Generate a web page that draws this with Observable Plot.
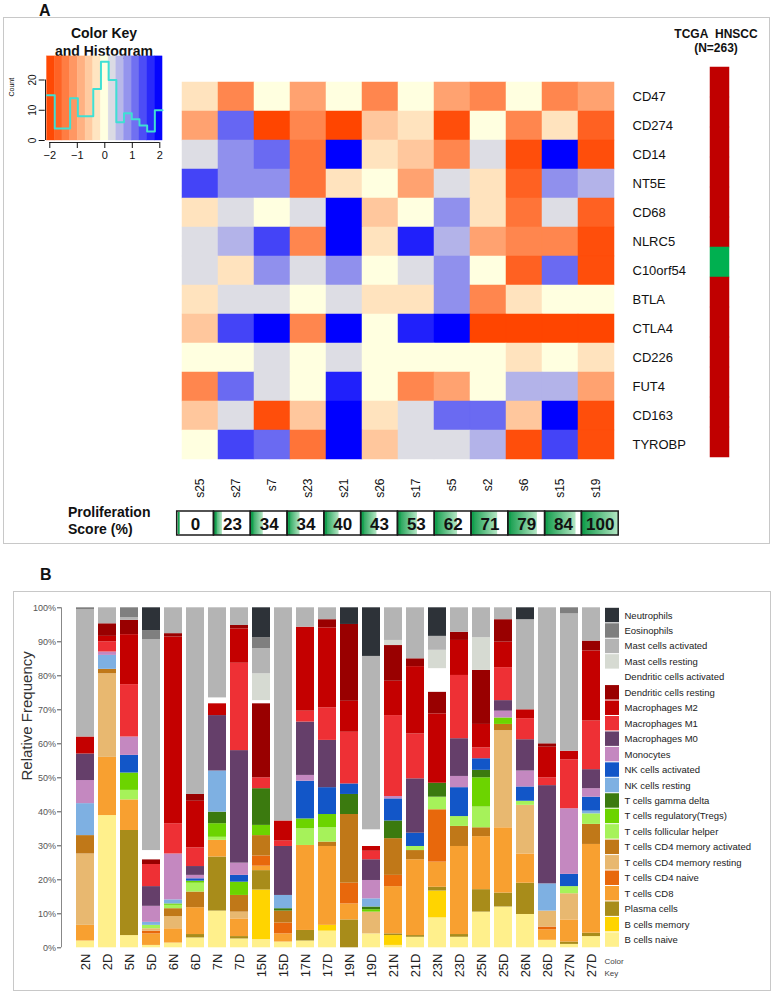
<!DOCTYPE html>
<html><head><meta charset="utf-8">
<script src="https://cdn.jsdelivr.net/npm/d3@7"></script>
<script src="https://cdn.jsdelivr.net/npm/@observablehq/plot@0.6"></script>
<style>
body{margin:0;background:#fff;}
#root{position:relative;width:777px;height:995px;overflow:hidden;font-family:Arial,"Liberation Sans",sans-serif;color:#111;background:#fff;}
.box{position:absolute;border:1px solid #c8c8c8;box-sizing:border-box;}
.lbl{position:absolute;white-space:nowrap;line-height:1;}
</style></head><body><div id="root">
<div class="box" style="left:3px;top:17px;width:767px;height:527px"></div>
<div class="box" style="left:13px;top:591px;width:758px;height:400px"></div>
<div class="lbl" style="left:39px;top:3px;font-weight:bold;font-size:16px">A</div>
<div class="lbl" style="left:40px;top:567px;font-weight:bold;font-size:16px">B</div>
<div class="lbl" style="left:0;width:208px;text-align:center;top:26px;font-weight:bold;font-size:14px">Color Key</div>
<div class="lbl" style="left:0;width:208px;text-align:center;top:44px;font-weight:bold;font-size:14px">and Histogram</div>
<div class="lbl" style="left:664px;width:104px;text-align:center;top:28px;font-weight:bold;font-size:12px">TCGA&nbsp;&nbsp;HNSCC</div>
<div class="lbl" style="left:664px;width:104px;text-align:center;top:42px;font-weight:bold;font-size:12px">(N=263)</div>
<div class="lbl" style="left:68px;top:505px;font-weight:bold;font-size:14px">Proliferation</div>
<div class="lbl" style="left:68px;top:522px;font-weight:bold;font-size:14px">Score (%)</div>
</div>
<script>
// ---------- Panel A data ----------
const genes = ["CD47","CD274","CD14","NT5E","CD68","NLRC5","C10orf54","BTLA","CTLA4","CD226","FUT4","CD163","TYROBP"];
const hmSamples = ["s25","s27","s7","s23","s21","s26","s17","s5","s2","s6","s15","s19"];
const zCD47    = [-0.3,-1.3,0,-1.0,0,-1.3,0,-1.0,-1.3,0,-1.3,-1.0];
const zCD274   = [-1.0,1.2,-2,-1.3,-2,-0.6,-0.3,-1.9,0,-1.3,-0.3,-1.7];
const zCD14    = [0.27,0.87,1.17,-1.5,2,-0.3,-0.6,-1.3,0.27,-1.9,2,-1.9];
const zNT5E    = [1.47,0.87,0.87,-1.5,-0.3,0,-1.0,0.27,-0.3,-1.7,0.87,0.6];
const zCD68    = [-0.3,0.27,0,0.27,2,-0.6,0,0.87,-0.3,-1.5,0.27,-1.7];
const zNLRC5   = [0.27,0.6,1.47,-1.3,2,-0.3,1.75,0.6,-1.0,-1.3,-1.3,-1.9];
const zC10orf54= [0.27,-0.3,0.87,0.27,0.87,0,0.27,0.87,0,-1.7,1.17,-1.9];
const zBTLA    = [-0.3,0.27,0.27,0,0.27,-0.3,-0.3,0.87,-1.3,-0.3,0,0];
const zCTLA4   = [-0.6,1.47,2,-1.3,2,0,1.75,2,-2,-2,-2,-2];
const zCD226   = [0,0,0.27,0,0.27,0,0,0,0,-0.3,0,-0.3];
const zFUT4    = [-1.3,1.17,0.27,0,1.75,0,-1.3,-1.0,0,0.6,0.6,-1.0];
const zCD163   = [-0.6,0.27,-1.9,-0.6,2,-0.3,0.27,1.17,1.17,-0.6,2,-1.9];
const zTYROBP  = [0,1.47,1.17,-1.5,2,-0.6,0.27,0.27,0.6,-1.9,1.47,-1.9];
const hmRows = [zCD47,zCD274,zCD14,zNT5E,zCD68,zNLRC5,zC10orf54,zBTLA,zCTLA4,zCD226,zFUT4,zCD163,zTYROBP];
const tcgaStatus = ["high","high","high","high","high","high","low","high","high","high","high","high","high"];
const prolifScores = [0,23,34,34,40,43,53,62,71,79,84,100];
const keyBinEdges = [-2.1,-1.82,-1.54,-1.26,-0.98,-0.7,-0.42,-0.14,0.14,0.42,0.7,0.98,1.26,1.54,1.82,2.1];
const keyCounts = [15,4,4,14,8,8,17,26,20,6,9,7,5,3,10];
const keyTicksX = [-2,-1,0,1,2];
const keyTicksY = [0,10,20];

// ---------- Panel B data ----------
const bSamples = ["2N","2D","5N","5D","6N","6D","7N","7D","15N","15D","17N","17D","19N","19D","21N","21D","23N","23D","25N","25D","26N","26D","27N","27D"];
const cellTypes = ["B cells naive","B cells memory","Plasma cells","T cells CD8","T cells CD4 naive","T cells CD4 memory resting","T cells CD4 memory activated","T cells follicular helper","T cells regulatory(Tregs)","T cells gamma delta","NK cells resting","NK cells activated","Monocytes","Macrophages M0","Macrophages M1","Macrophages M2","Dendritic cells resting","Dendritic cells activated","Mast cells resting","Mast cells activated","Eosinophils","Neutrophils"];
const cellColors = ["#fff08c","#ffd400","#a88c1a","#f8a030","#e8680c","#e8b870","#c07818","#a6f25a","#6cd400","#3b7a0f","#7eb0e2","#1256c8","#c488c0","#653f6a","#ee3035","#c40000","#990000","#ffffff","#d6dad2","#b4b4b4","#7f7f7f","#2d3238"];
const bNaive   = [2,38.9,3.6,0.7,1.4,2.9,10.8,2.6,2.4,1.7,2,4.9,0,4.1,0.7,3.1,8.8,3.1,10.5,12,9.8,2.2,1.0,3.3];
const bMemory  = [0,0,0,0,0,0,0,0,14.6,0,0,1.7,0,0,2.9,0,7.9,0,0,0,0,0,0,0];
const plasma   = [0,0,30.9,0,0,1.0,15.9,0.7,5.7,0,3.1,0,8.2,0,0.5,0.5,1.1,0.8,6.6,4.1,9.2,0,0.7,1.0];
const tCD8     = [4.6,17.1,9,3.4,4.2,7.9,4.9,5.2,1.3,2.4,25,23.2,4.7,0,13.9,22.3,7.4,25.9,15.6,19.2,8.6,3.1,6.5,26.1];
const tCD4naive= [0,0,0,0.8,0,0,0,0,3.0,3.2,0,0,6.1,0,3.3,0,15.4,0,0,0,0,0.8,0,0];
const tCD4rest = [21,24.6,0,0.7,3.6,0,0,2,0,0,0,0,0,6.4,0,0,0,0,0,28.6,14.3,4.7,7.7,0];
const tCD4act  = [5.4,1.3,0,0,2.3,4.6,0,4.9,6,3.5,0,1.3,20.2,0,10.8,2.7,0,5.9,2.6,1.8,0,0,0,5.9];
const tFH      = [0,0,2.8,1.0,1.0,2.6,0.9,0,0,0,4.9,4.2,0,0,0,1.2,3.7,2.9,6.1,0,1.2,0,2.1,3.1];
const tReg     = [0,0,5.1,0,0.4,0.6,4,3.9,3,0,2.9,3.9,0,0.7,0,0,0,0,8.6,1.9,0,0,0,0];
const tGD      = [0,0,0,0,0,0,3.4,0,10.8,0.7,0,0,5.9,0.8,5.2,0,4.1,0,2.2,0,0,0,0,0];
const nkRest   = [9.4,4.1,0,0.9,1.2,0,12.1,0,0,3.9,0,0,0,2.4,0,0,0,0,0,0,0,8,0,0.8];
const nkAct    = [0,0,5.2,0,0,0.7,0,2,0,0,11.1,7.9,3.1,0,6.5,3.9,0,8.5,3.4,0,4.2,0,3.6,4.1];
const mono     = [6.8,1,5.4,4.7,13.5,1.0,0,3.6,0,0,1.7,0,0,5.4,0.7,0,0,3.3,0,2,4.7,0,19.3,2.5];
const macM0    = [7.8,0,0,5.8,0,2.6,16.3,33.1,0,14.4,15.7,13.9,0,6.1,0,16,0,11.1,0,3.1,9.2,28.9,0,5.6];
const macM1    = [0,3,15.4,6.5,8.9,5.5,0,25.7,3.2,1.6,3.2,9.6,15.2,2.5,23.8,13.2,0,18.6,3.2,9.7,6.2,2.3,14.4,14.3];
const macM2    = [5,1.6,14.7,0,54.9,13.7,3.5,10.1,0,5.9,24.7,23.5,9.1,1.4,10.1,19.8,20.4,10.3,6.9,7.5,2.6,9,2.5,20.6];
const dcRest   = [0,3.7,4.2,1.4,1.0,2,0,1,21.8,0,0,2.4,22.6,0,10.5,2.3,6.4,2.4,15.9,6.6,0,1,0,2.9];
const dcAct    = [0,0,0,2.7,0,0,1.7,0,0.9,0,0,0,0,4.9,0,0,6.9,0,0,0,0,0,0,0];
const mastRest = [0,0,0,0,0,0,0,0,7.9,0,0,0,0,0,1.5,0,5.4,0,9.6,0,0,0,0,0];
const mastAct  = [37.4,4.7,0.8,62,7.6,54.9,26.5,5.2,7.4,62.7,5.7,3.5,0,51,9.6,15,4.1,7.2,8.8,3.5,26.5,40,40.4,9.8];
const eosin    = [0.6,0,2.9,2.7,0,0,0,0,3.2,0,0,0,0,0,0,0,0,0,0,0,0,0,1.8,0];
const neutro   = [0,0,0,6.7,0,0,0,0,8.8,0,0,0,4.9,14.3,0,0,8.4,0,0,0,3.5,0,0,0];
const bSeries = [bNaive,bMemory,plasma,tCD8,tCD4naive,tCD4rest,tCD4act,tFH,tReg,tGD,nkRest,nkAct,mono,macM0,macM1,macM2,dcRest,dcAct,mastRest,mastAct,eosin,neutro];

// ---------- build ----------
const root = document.getElementById("root");
const FONT = "Arial, 'Liberation Sans', sans-serif";
function place(svg, left, top) {
  svg.style.position = "absolute"; svg.style.left = left + "px"; svg.style.top = top + "px";
  svg.style.maxWidth = "none";
  root.appendChild(svg);
  return svg;
}
const baseStyle = {background: "transparent", fontFamily: FONT, color: "#111", overflow: "visible"};
const heatColor = {type: "linear", domain: [-2, 0, 2], range: ["#ff4500", "#ffffe0", "#0000ff"], interpolate: "rgb"};

// Color key + histogram
const keyBins = keyCounts.map((c, i) => ({x1: keyBinEdges[i], x2: keyBinEdges[i+1], mid: (keyBinEdges[i] + keyBinEdges[i+1]) / 2, count: c}));
const keyLine = keyBins.map(b => ({x: b.x1, y: b.count})).concat([{x: keyBinEdges[keyBinEdges.length-1], y: keyCounts[keyCounts.length-1]}]);
const keyPlot = Plot.plot({
  width: 180, height: 170, marginLeft: 49, marginRight: 21, marginTop: 56, marginBottom: 30,
  x: {domain: [-2, 2], range: [49.3, 159.3], label: null},
  y: {domain: [0, 20], range: [140, 79.5], label: null},
  color: heatColor,
  style: baseStyle,
  marks: [
    Plot.rect(keyBins, {x1: "x1", x2: "x2", y1: 0, y2: 27.8, fill: "mid", stroke: "mid", strokeWidth: 0.4, inset: 0}),
    Plot.line(keyLine, {x: "x", y: "y", curve: "step-after", stroke: "#3fe0d4", strokeWidth: 2}),
    Plot.ruleY([0], {x1: -2, x2: 2, dy: 2, stroke: "#222"}),
    Plot.axisX({ticks: keyTicksX, tickSize: 6, tickPadding: 3, dy: 2, fontSize: 11, tickFormat: d => d < 0 ? "\u2212" + (-d) : String(d)}),
    Plot.ruleX([-2], {y1: 0, y2: 20, dx: -4.3, stroke: "#222"}),
    Plot.axisY({ticks: keyTicksY, tickSize: 6, tickPadding: 3, dx: -4.3, tickRotate: -90, fontSize: 10}),
    Plot.text(["Count"], {frameAnchor: "left", dx: -38, dy: -2, rotate: -90, fontSize: 7})
  ]
});
place(keyPlot, 0, 0);

// Heatmap
const cells = genes.flatMap((g, r) => hmSamples.map((s, c) => ({gene: g, sample: s, z: hmRows[r][c]})));
const heat = Plot.plot({
  width: 777, height: 505, marginLeft: 180, marginRight: 161, marginTop: 78, marginBottom: 42,
  x: {domain: hmSamples, range: [180, 616], padding: 0, label: null},
  y: {domain: genes, range: [78, 463], padding: 0, label: null},
  color: heatColor,
  style: baseStyle,
  marks: [
    Plot.cell(cells, {x: "sample", y: "gene", fill: "z", stroke: "z", strokeWidth: 0.5, inset: 0}),
    Plot.axisX({anchor: "bottom", tickSize: 0, tickPadding: 15, tickRotate: -90, fontSize: 12}),
    Plot.axisY({anchor: "right", tickSize: 0, tickPadding: 16, fontSize: 13})
  ]
});
place(heat, 0, 0);

// TCGA side bar
const side = genes.map((g, i) => ({gene: g, status: tcgaStatus[i], col: "TCGA"}));
const sidePlot = Plot.plot({
  width: 777, height: 505, marginLeft: 709, marginRight: 49, marginTop: 62, marginBottom: 43,
  x: {domain: ["TCGA"], range: [709.5, 728.5], padding: 0, axis: null},
  y: {domain: genes, range: [62, 462], padding: 0, axis: null},
  color: {domain: ["high", "low"], range: ["#c00000", "#00b050"]},
  style: baseStyle,
  marks: [Plot.cell(side, {x: "col", y: "gene", fill: "status", stroke: "status", strokeWidth: 0.5, inset: 0})]
});
place(sidePlot, 0, 0);

// Proliferation score boxes
const prolif = prolifScores.map((s, i) => ({i, i1: i + 1, g: i + s / 100, c: i + 0.5, score: s, sample: hmSamples[i]}));
const prolifPlot = Plot.plot({
  width: 777, height: 40, marginLeft: 177, marginRight: 159, marginTop: 6, marginBottom: 10,
  x: {domain: [0, 12], range: [176.7, 618.2], axis: null},
  style: baseStyle,
  marks: [
    Plot.rect(prolif, {x1: "i", x2: "i1", fill: "white", inset: 0}),
    Plot.rect(prolif, {x1: "i", x2: "g", fill: "url(#pgrad)", inset: 0}),
    Plot.ruleX(prolif, {x: "i", dx: 1.5, stroke: "#12a04e", strokeWidth: 2, insetTop: 1, insetBottom: 1}),
    Plot.rect(prolif, {x1: "i", x2: "i1", fill: "none", stroke: "#1a1a1a", strokeWidth: 1.5, inset: 0}),
    Plot.text(prolif, {x: "c", text: d => String(d.score), fontSize: 17, fontWeight: "bold", fill: "#111", fontFamily: "'Liberation Sans Narrow', 'Arial Narrow', Arial, sans-serif", dy: 1})
  ]
});
{
  const defs = d3.select(prolifPlot).insert("defs", ":first-child");
  const lg = defs.append("linearGradient").attr("id", "pgrad");
  lg.append("stop").attr("offset", "0%").attr("stop-color", "#0e9a48");
  lg.append("stop").attr("offset", "100%").attr("stop-color", "#b4e6c4");
}
place(prolifPlot, 0, 505);

// ---------- Panel B ----------
const stacked = bSamples.flatMap((s, j) => cellTypes.map((t, k) => ({sample: s, type: t, value: bSeries[k][j]})));
const legendRows = cellTypes.map((t, k) => ({key: "Color Key", type: t, y1: k * 100 / cellTypes.length, y2: (k + 1) * 100 / cellTypes.length, ym: (k + 0.5) * 100 / cellTypes.length}));
const chartB = Plot.plot({
  width: 777, height: 400, marginTop: 17, marginBottom: 43, marginLeft: 61, marginRight: 141,
  x: {domain: [...bSamples, "Color Key"], range: [61.1, 636.2], padding: 0.17, label: null},
  y: {domain: [0, 100], range: [357.3, 17.3], label: null},
  color: {domain: cellTypes, range: cellColors},
  style: baseStyle,
  marks: [
    Plot.barY(stacked, {x: "sample", y: "value", fill: "type", inset: 0}),
    Plot.barY(legendRows, {x: "key", y1: "y1", y2: "y2", fill: "type", insetLeft: 1, insetRight: 3, insetTop: 0.5, insetBottom: 0.5}),
    Plot.text(legendRows, {x: "key", y: "ym", text: "type", textAnchor: "start", dx: 11, fontSize: 9.5, fill: "#222"}),
    Plot.text([{key: "Color Key"}], {x: "key", text: () => "Color\nKey", frameAnchor: "bottom", lineAnchor: "top", textAnchor: "start", dx: -9, dy: 8, fontSize: 8, lineHeight: 1.5, fill: "#444"}),
    Plot.axisX({tickRotate: -90, tickSize: 0, tickPadding: 6, fontSize: 13, fill: "#222", tickFormat: d => d === "Color Key" ? "" : d}),
    Plot.axisY({ticks: [0,10,20,30,40,50,60,70,80,90,100], tickSize: 4, tickPadding: 1.5, fontSize: 9, color: "#555", tickFormat: d => d + "%"}),
    Plot.text(["Relative Frequency"], {frameAnchor: "left", dx: -34, dy: 3, rotate: -90, fontSize: 15, fill: "#333"})
  ]
});
{
  const ys = chartB.scale("y");
  d3.select(chartB).append("line")
    .attr("x1", 61.5).attr("x2", 61.5)
    .attr("y1", ys.apply(0)).attr("y2", ys.apply(100))
    .attr("stroke", "#888");
}
place(chartB, 0, 590);
</script></body></html>
